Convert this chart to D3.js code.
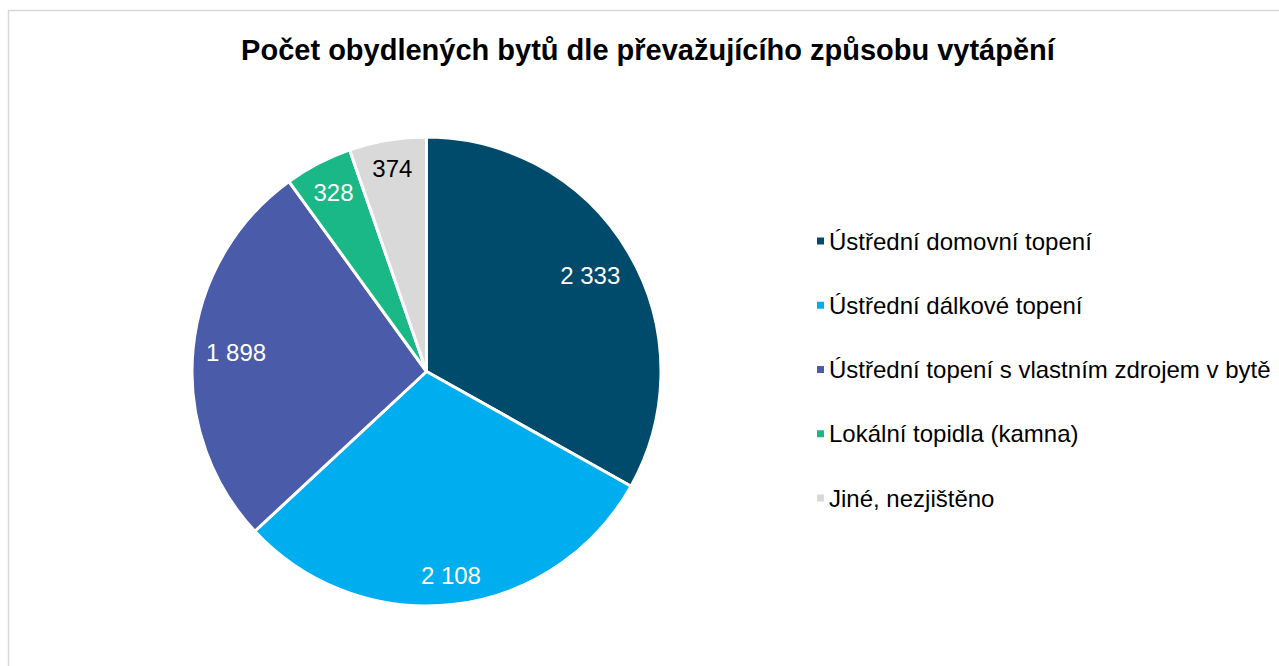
<!DOCTYPE html>
<html>
<head>
<meta charset="utf-8">
<script src="https://cdn.jsdelivr.net/npm/d3@7"></script>
<style>
body{margin:0;background:#fff}
text{font-family:"Liberation Sans",Arial,sans-serif}
</style>
</head>
<body>
<svg id="chart" width="1279" height="666"></svg>
<script>
var categories = ['Ústřední domovní topení','Ústřední dálkové topení','Ústřední topení s vlastním zdrojem v bytě','Lokální topidla (kamna)','Jiné, nezjištěno']
var values = [2333,2108,1898,328,374]
var labels = ['2 333','2 108','1 898','328','374']
var colors = ['#004b6b','#00aeef','#4a5baa','#1ab787','#d9d9d9']
var labelColors = ['#fff','#fff','#fff','#fff','#000']

var svg = d3.select('#chart')

svg.append('rect').attr('x',8.5).attr('y',10.5).attr('width',1300).attr('height',700)
	.attr('fill','#fff').attr('stroke','#d9d9d9').attr('stroke-width',1.5)

svg.append('text').text('Počet obydlených bytů dle převažujícího způsobu vytápění')
	.attr('x',648).attr('y',60).attr('text-anchor','middle')
	.style('font-size','29px').style('font-weight','bold').attr('fill','#000')

var cx = 426.5, cy = 371.5, r = 234.5
var pie = d3.pie().sort(null).value(d=>d)
var arcs = pie(values)
var arc = d3.arc().innerRadius(0).outerRadius(r)

var g = svg.append('g').attr('transform',`translate(${cx},${cy})`)
g.selectAll('path').data(arcs).enter().append('path')
	.attr('d',arc)
	.attr('fill',(d,i)=>colors[i])
	.attr('stroke','#fff').attr('stroke-width',3).attr('stroke-linejoin','round')

// labels placed near the inside end of each slice
var lab = g.selectAll('text').data(arcs).enter().append('text')
	.text((d,i)=>labels[i])
	.attr('text-anchor','middle').attr('dominant-baseline','central')
	.style('font-size','24px')
	.attr('fill',(d,i)=>labelColors[i])
lab.each(function(d){
	var bb = this.getBBox()
	var a = (d.startAngle+d.endAngle)/2
	var s = Math.abs(Math.sin(a)), c = Math.abs(Math.cos(a))
	var dist = r - 12 - (s*bb.width/2 + c*bb.height/2)
	d3.select(this).attr('x',Math.sin(a)*dist).attr('y',-Math.cos(a)*dist)
})

var legend = svg.append('g').attr('transform','translate(817,0)')
var ly = d3.scalePoint().domain(d3.range(categories.length)).range([241,498])
categories.forEach((e,i)=>{
	legend.append('rect').attr('x',0).attr('y',ly(i)-3.5).attr('width',7).attr('height',7)
		.attr('fill',colors[i])
	legend.append('text').text(e)
		.attr('x',12).attr('y',ly(i)).attr('dominant-baseline','central')
		.style('font-size','24px').attr('fill','#000')
})
</script>
</body>
</html>
